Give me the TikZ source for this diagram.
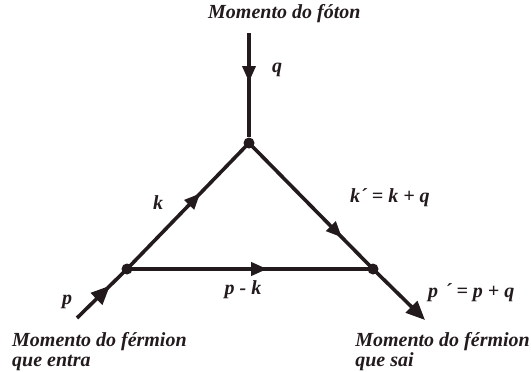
\documentclass[tikz,border=0pt]{standalone}
\usepackage{fontspec}
\setmainfont{Liberation Serif}
\usetikzlibrary{arrows.meta,decorations.markings}
\definecolor{ink}{HTML}{221A1C}

\begin{document}
\begin{tikzpicture}[x=1pt,y=-1pt,font=\bfseries\itshape\fontsize{20}{20}\selectfont,text=ink,
  line/.style={draw=ink,line width=3.6pt},
  midarrow/.style={postaction={decorate},decoration={markings,
    mark=at position #1 with {\arrow{Triangle[length=16pt,width=13pt]}}}},
  vertex/.style={circle,fill=ink,inner sep=0pt,minimum size=11pt},
  legenda/.style={align=left,anchor=north west,inner sep=0pt}]
  \useasboundingbox (0,0) rectangle (531,372);
  % vertices of the triangle
  \node[vertex] (T) at (249,143) {};
  \node[vertex] (L) at (127,269) {};
  \node[vertex] (R) at (373,269) {};
  \coordinate (fotonIn) at (249,33);
  \coordinate (fermIn) at (77,318);
  \coordinate (fermOut) at (425,320);
  % lines
  \draw[line,midarrow=.47] (fotonIn) -- (T);
  \draw[line,midarrow=.6] (L.center) -- (T.center);
  \draw[line,midarrow=.75] (T.center) -- (R.center);
  \draw[line,midarrow=.57] (L.center) -- (R.center);
  \draw[line,postaction={decorate},decoration={markings,
    mark=at position .66 with {\arrow{Triangle[length=19pt,width=16pt]}}}] (fermIn) -- (L.center);
  \draw[line,-{Triangle[length=19pt,width=16pt]}] (R.center) -- (fermOut);
  % labels
  \node[anchor=west,inner sep=0pt] (titulo) at (208,14) {Momento do fóton};
  \node (q) at (277,70) {q};
  \node (k) at (158,203) {k};
  \node[anchor=west,inner sep=0pt] (kl) at (350,198) {k´ = k + q};
  \node (pk) at (243,290) {p - k};
  \node (p) at (67,302) {p};
  \node[anchor=west,inner sep=0pt] (pl) at (428,293) {p\,\,´ = p + q};
  \node[legenda] (entra) at (12,332) {Momento do férmion\\que entra};
  \node[legenda,anchor=north east] (sai) at (530,332) {Momento do férmion\\que sai};
\end{tikzpicture}
\end{document}
